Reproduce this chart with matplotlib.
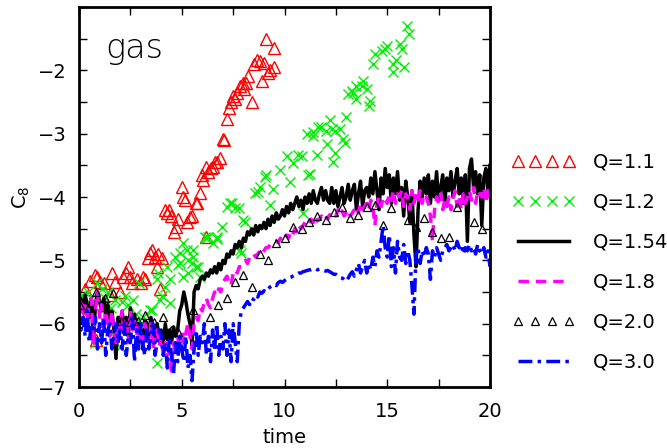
import numpy as np
import matplotlib
matplotlib.use("Agg")
import matplotlib.pyplot as plt
from matplotlib.ticker import MultipleLocator

plt.rcParams['font.family'] = ['DejaVu Sans']

# ---------------- data ----------------
time = np.round(np.arange(0, 201) * 0.1, 1)

q154 = [
 -5.75,-5.6,-5.8,-5.55,-5.7,-5.9,-5.6,-6.3,-5.7,-5.5,
 -5.65,-5.8,-5.6,-5.9,-5.7,-6.0,-5.8,-6.1,-6.55,-5.9,
 -6.0,-5.8,-6.1,-5.9,-6.2,-5.75,-6.0,-5.85,-6.05,-6.0,
 -6.1,-6.4,-5.95,-6.0,-6.2,-5.9,-6.1,-6.3,-6.0,-6.2,
 -6.1,-6.3,-6.0,-6.25,-6.1,-6.3,-6.05,-6.2,-6.1,-5.8,
 -5.7,-5.5,-5.65,-5.85,-6.0,-6.35,-5.5,-5.4,-5.45,-5.3,
 -5.25,-5.3,-5.2,-5.25,-5.15,-5.2,-5.1,-5.2,-5.05,-5.15,
 -5.0,-5.05,-4.9,-4.95,-4.85,-4.9,-4.75,-4.8,-4.7,-4.8,
 -4.65,-4.7,-4.55,-4.6,-4.5,-4.6,-4.45,-4.55,-4.45,-4.5,
 -4.4,-4.5,-4.35,-4.45,-4.3,-4.4,-4.25,-4.35,-4.3,-4.2,
 -4.3,-4.15,-4.25,-4.1,-4.2,-4.1,-4.0,-4.15,-4.05,-4.2,
 -4.0,-4.1,-3.95,-4.1,-3.9,-4.05,-4.1,-3.95,-3.85,-4.05,
 -3.9,-4.05,-4.1,-3.85,-4.1,-3.9,-4.15,-4.0,-3.85,-4.1,
 -4.0,-3.8,-4.05,-3.9,-3.8,-4.2,-3.95,-3.75,-4.15,-3.9,
 -3.85,-4.0,-3.7,-3.95,-3.6,-3.9,-4.2,-3.7,-3.95,-3.55,
 -3.85,-3.65,-4.1,-3.7,-3.95,-3.6,-4.05,-3.85,-4.3,-3.75,
 -4.0,-4.4,-3.9,-4.6,-5.1,-4.2,-3.75,-4.0,-3.7,-3.95,
 -3.65,-4.1,-3.75,-4.0,-3.6,-4.05,-3.85,-3.65,-4.1,-3.7,
 -3.9,-3.6,-4.0,-3.75,-3.55,-3.95,-3.7,-4.1,-3.65,-4.7,
 -3.55,-3.4,-3.85,-3.6,-3.95,-3.65,-4.45,-3.7,-3.55,-3.9,
 -3.5]

q18 = [
 -5.8,-5.6,-5.9,-5.65,-5.95,-5.7,-5.6,-6.35,-5.8,-5.5,
 -5.9,-5.7,-6.1,-5.8,-6.0,-6.2,-5.8,-6.1,-6.3,-5.95,
 -6.1,-5.8,-6.2,-5.95,-6.3,-5.8,-6.1,-5.9,-6.2,-6.0,
 -6.2,-6.35,-6.0,-6.1,-6.3,-6.0,-6.4,-6.2,-6.1,-6.35,
 -6.2,-6.5,-6.3,-6.6,-6.4,-6.75,-6.3,-6.5,-6.2,-6.4,
 -6.1,-6.3,-6.15,-6.0,-6.2,-6.4,-6.0,-5.9,-5.95,-5.75,
 -5.8,-5.65,-5.6,-5.7,-5.75,-5.6,-5.5,-5.55,-5.45,-5.5,
 -5.35,-5.3,-5.25,-5.35,-5.4,-5.2,-5.15,-5.2,-5.1,-5.1,
 -5.05,-5.0,-5.05,-4.95,-4.95,-4.9,-4.95,-4.9,-4.85,-4.9,
 -4.85,-4.8,-4.8,-4.75,-4.75,-4.7,-4.7,-4.72,-4.65,-4.7,
 -4.65,-4.6,-4.65,-4.55,-4.6,-4.5,-4.55,-4.45,-4.5,-4.45,
 -4.4,-4.45,-4.4,-4.35,-4.4,-4.3,-4.38,-4.35,-4.3,-4.35,
 -4.3,-4.35,-4.28,-4.3,-4.25,-4.3,-4.2,-4.28,-4.22,-4.3,
 -4.25,-4.2,-4.3,-4.25,-4.2,-4.15,-4.25,-4.1,-4.2,-4.15,
 -4.1,-4.2,-4.05,-4.15,-4.45,-4.1,-4.0,-4.15,-4.0,-4.05,
 -4.1,-3.95,-4.05,-3.9,-4.1,-3.95,-4.0,-3.9,-4.15,-3.95,
 -4.0,-4.2,-3.9,-4.1,-3.95,-4.05,-3.9,-4.1,-3.95,-4.0,
 -4.1,-4.3,-4.7,-4.2,-4.0,-4.1,-3.95,-4.2,-4.05,-4.15,
 -4.0,-4.2,-4.05,-3.9,-4.15,-4.0,-4.2,-3.95,-4.1,-4.0,
 -3.9,-4.05,-3.85,-4.1,-3.9,-3.95,-4.0,-3.85,-4.1,-3.9,
 -3.95]

q30 = [
 -5.8,-6.1,-5.9,-6.2,-5.8,-6.3,-6.0,-6.1,-5.9,-6.4,
 -6.0,-6.3,-5.9,-6.5,-6.1,-6.0,-6.4,-6.2,-6.0,-6.3,
 -6.1,-6.4,-6.0,-6.5,-6.2,-6.3,-5.9,-6.6,-6.1,-6.4,
 -6.0,-6.3,-6.5,-6.1,-6.4,-6.2,-6.0,-6.5,-6.3,-6.1,
 -6.2,-6.5,-6.3,-6.7,-6.2,-6.5,-6.8,-6.3,-6.6,-6.2,
 -6.4,-6.6,-6.2,-6.7,-6.5,-6.9,-6.4,-6.1,-6.5,-6.2,
 -6.3,-6.0,-6.5,-6.2,-6.6,-6.1,-6.4,-6.0,-6.5,-6.2,
 -6.4,-6.0,-6.5,-6.1,-6.6,-6.0,-6.3,-6.6,-6.0,-5.8,
 -5.75,-5.7,-5.65,-5.7,-5.6,-5.62,-5.55,-5.58,-5.5,-5.52,
 -5.48,-5.5,-5.45,-5.42,-5.4,-5.38,-5.4,-5.35,-5.33,-5.35,
 -5.32,-5.3,-5.28,-5.27,-5.25,-5.23,-5.22,-5.2,-5.2,-5.18,
 -5.17,-5.16,-5.15,-5.15,-5.14,-5.13,-5.15,-5.14,-5.15,-5.16,
 -5.17,-5.16,-5.18,-5.2,-5.22,-5.22,-5.25,-5.27,-5.28,-5.3,
 -5.33,-5.28,-5.22,-5.18,-5.25,-5.15,-5.05,-5.2,-5.1,-5.0,
 -5.2,-5.05,-5.15,-4.95,-5.1,-4.85,-4.95,-4.7,-4.45,-4.8,
 -4.95,-4.6,-5.1,-4.8,-5.2,-4.7,-4.95,-5.0,-4.75,-5.05,
 -4.85,-5.0,-5.4,-5.85,-4.9,-4.8,-5.05,-4.85,-4.95,-4.8,
 -4.9,-5.3,-4.85,-4.95,-4.8,-4.9,-5.0,-4.85,-4.8,-4.75,
 -4.85,-4.8,-4.75,-4.85,-4.7,-4.8,-4.75,-4.9,-4.8,-4.85,
 -4.75,-4.85,-4.8,-4.9,-4.75,-4.85,-4.9,-4.8,-4.95,-4.85,
 -5.1]

q11_t = [0.05,0.3,0.55,0.78,0.9,0.85,1.0,1.2,1.5,1.6,1.75,2.0,2.15,2.3,2.4,2.5,2.6,2.8,3.0,3.1,
         3.2,3.35,3.45,3.55,3.7,3.8,3.85,3.95,4.05,4.2,4.3,4.4,4.5,4.6,4.7,4.8,5.0,5.07,5.15,5.25,
         5.4,5.5,5.7,5.75,5.9,6.0,6.05,6.2,6.2,6.3,6.4,6.5,6.6,6.7,6.87,7.0,7.05,7.2,7.3,7.4,
         7.5,7.6,7.7,7.85,8.0,8.05,8.15,8.2,8.4,8.5,8.66,8.8,8.9,9.0,9.2,9.1,9.3,9.5,9.5]
q11_y = [-5.86,-5.46,-5.33,-5.23,-5.27,-6.26,-5.34,-5.35,-5.54,-5.2,-5.34,-5.5,-5.26,-5.2,-5.1,-5.26,-5.35,-5.3,-5.35,-5.27,
         -5.3,-4.96,-4.88,-4.83,-4.94,-5.1,-4.9,-5.46,-4.96,-4.2,-4.25,-4.2,-4.3,-4.55,-4.48,-4.35,-3.84,-4.0,-4.04,-4.4,
         -4.31,-4.3,-4.09,-4.1,-3.93,-3.65,-3.73,-3.52,-4.63,-3.6,-3.55,-3.52,-3.45,-3.45,-3.38,-3.08,-3.1,-2.77,-2.6,-2.5,
         -2.4,-2.45,-2.35,-2.25,-2.2,-2.3,-2.2,-2.09,-2.5,-1.9,-1.83,-1.85,-2.17,-1.88,-2.04,-1.5,-2.0,-1.64,-1.94]

q12_t = [0.15,0.3,0.45,0.6,0.78,0.9,1.1,1.25,1.4,1.55,1.75,2.0,2.1,2.25,2.4,2.63,2.75,2.9,3.0,3.1,
         3.45,3.55,3.8,3.8,3.85,3.95,4.05,4.2,4.28,4.43,4.43,4.67,4.8,4.9,4.9,5.07,5.07,5.25,5.3,5.3,
         5.5,5.55,5.55,5.7,5.8,5.9,6.15,6.2,6.3,6.5,6.7,6.7,6.95,7.2,7.35,7.45,7.6,7.8,7.85,7.9,
         8.0,8.08,8.57,8.7,8.8,9.05,9.1,9.3,9.45,9.8,10.1,10.27,10.4,10.65,10.85,10.9,11.1,11.15,11.25,11.4,
         11.4,11.6,11.65,11.8,12.0,12.05,12.2,12.3,12.35,12.45,12.45,12.7,12.85,12.95,13.0,13.1,13.3,13.35,13.5,13.5,
         13.75,13.8,14.0,14.1,14.15,14.3,14.4,14.75,14.9,15.0,15.3,15.3,15.45,15.6,15.7,15.8,15.96,16.06]
q12_y = [-5.55,-5.7,-5.5,-5.6,-6.3,-5.35,-5.45,-5.6,-5.5,-5.75,-5.62,-6.37,-5.65,-5.57,-5.7,-5.62,-5.85,-5.35,-5.99,-5.9,
         -5.78,-5.78,-6.62,-5.3,-5.2,-5.62,-5.57,-5.42,-5.1,-5.3,-5.67,-4.94,-5.07,-4.88,-5.04,-4.72,-5.26,-4.83,-5.0,-5.2,
         -5.04,-4.83,-4.94,-5.1,-5.1,-5.26,-4.63,-4.64,-4.63,-4.72,-4.63,-4.67,-4.47,-4.15,-4.09,-4.09,-4.17,-4.17,-4.83,-4.88,
         -4.36,-4.4,-3.93,-3.92,-3.84,-3.68,-3.65,-4.12,-3.88,-3.57,-3.36,-3.77,-3.46,-3.33,-3.36,-4.25,-3.0,-3.65,-3.64,-2.98,
         -3.04,-3.33,-2.9,-2.89,-2.96,-3.17,-2.78,-2.93,-3.44,-2.96,-3.3,-2.93,-3.09,-3.14,-2.73,-2.38,-2.33,-2.35,-2.25,-2.46,
         -2.25,-2.17,-2.3,-2.57,-2.49,-1.9,-1.75,-1.7,-1.67,-1.62,-1.9,-2.02,-1.83,-1.59,-1.67,-1.94,-1.3,-1.43]

q20_t = [0.05,0.45,0.85,1.25,1.65,2.05,2.5,2.85,3.2,3.65,4.1,4.5,4.8,5.55,6.37,6.77,7.2,7.6,8.0,8.4,
         8.8,9.2,9.6,10.0,10.4,10.85,11.2,11.6,12.0,12.4,12.8,13.2,13.6,14.0,14.4,14.8,15.2,16.0,16.4,16.8,
         17.2,17.6,18.0,18.4,19.2,19.6]
q20_y = [-5.7,-5.75,-5.5,-5.6,-5.51,-5.95,-5.98,-5.95,-5.86,-5.97,-5.9,-6.1,-6.13,-5.78,-5.9,-5.7,-5.59,-5.34,-5.23,-5.42,
         -4.9,-5.0,-4.72,-4.64,-4.47,-4.5,-4.4,-4.3,-4.36,-4.23,-4.15,-4.33,-4.28,-4.15,-4.12,-4.44,-4.17,-4.36,-4.47,-4.33,
         -4.55,-4.64,-4.63,-4.15,-4.39,-4.5]

labels = ["Q=1.1", "Q=1.2", "Q=1.54", "Q=1.8", "Q=2.0", "Q=3.0"]

# ---------------- figure ----------------
fig = plt.figure(figsize=(6.67, 4.48), dpi=100)
ax = fig.add_axes([79/667, 1-387/448, (490-79)/667, (387-7)/448])

ax.plot(q11_t, q11_y, ls='none', marker='^', mfc='none', mec='red', ms=9, mew=1.0, label=labels[0])
ax.plot(q12_t, q12_y, ls='none', marker='x', color='#00ee00', ms=7, mew=1.0, label=labels[1])
ax.plot(time, q154, color='black', lw=2.5, label=labels[2])
ax.plot(time, q18, color='magenta', lw=2.5, ls=(0, (3, 2)), label=labels[3])
ax.plot(q20_t, q20_y, ls='none', marker='^', mfc='none', mec='black', ms=5.5, mew=0.9, label=labels[4])
ax.plot(time, q30, color='blue', lw=2.5, ls=(0, (4, 1.5, 1, 1.5)), label=labels[5])

ax.set_xlim(0, 20)
ax.set_ylim(-7, -1)
ax.xaxis.set_major_locator(MultipleLocator(5))
ax.xaxis.set_minor_locator(MultipleLocator(2.5))
ax.yaxis.set_major_locator(MultipleLocator(1))
ax.yaxis.set_minor_locator(MultipleLocator(0.5))
ax.set_yticks([-7, -6, -5, -4, -3, -2])
ax.tick_params(which='both', direction='in', top=True, right=True, length=6, width=1, labelsize=14)
ax.tick_params(axis='x', pad=11)
ax.tick_params(axis='y', pad=9)
for s in ax.spines.values():
    s.set_linewidth(2)

ax.set_xlabel("time", fontsize=14, labelpad=5)
ax.set_ylabel("C$_8$", fontsize=14, labelpad=4)
ax.text(1.3, -1.65, "gas", fontsize=24, ha='left', va='center', fontweight='light')

leg = ax.legend(loc='upper left', bbox_to_anchor=(1.034, 0.637), frameon=False, fontsize=14,
                numpoints=4, handlelength=3.25, labelspacing=1.08, handletextpad=0.93,
                borderaxespad=0.0)

fig.savefig("out.png", dpi=100)
